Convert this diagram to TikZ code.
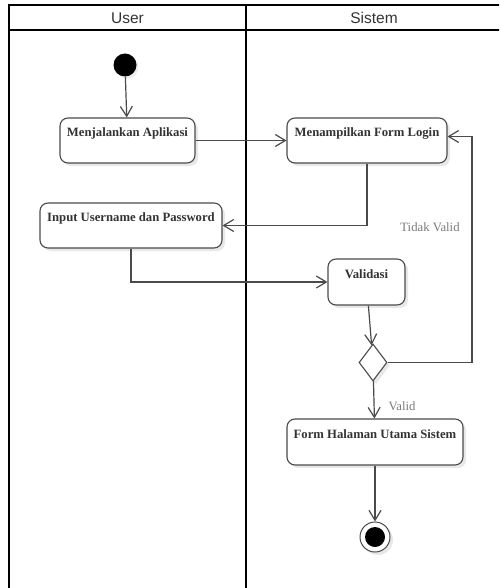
\documentclass[tikz,border=0pt]{standalone}
\usepackage{fontspec}
\setmainfont{Liberation Serif}
\setsansfont{Liberation Sans}
\usetikzlibrary{positioning,arrows.meta,shapes.geometric,shadows}

\definecolor{linegray}{HTML}{4A4A4A}
\definecolor{textgray}{HTML}{333333}
\definecolor{labelgray}{HTML}{7A7A7A}

\tikzset{
    activity/.style={draw=linegray, line width=1.1pt, rounded corners=8pt, fill=white,
        minimum height=45pt, inner sep=2pt, text height=9pt, text depth=17pt, text=textgray,
        font=\fontsize{12.7}{14}\selectfont\bfseries,
        drop shadow={shadow xshift=3pt, shadow yshift=-3pt, fill=black!9, opacity=1}},
    decision/.style={diamond, draw=linegray, line width=1.1pt, fill=white,
        minimum width=28pt, minimum height=37pt, inner sep=0pt,
        drop shadow={shadow xshift=3pt, shadow yshift=-3pt, fill=black!9, opacity=1}},
    startnode/.style={circle, fill=black, minimum size=23pt, inner sep=0pt,
        drop shadow={shadow xshift=2pt, shadow yshift=-2pt, fill=black!7, opacity=1}},
    endnode/.style={circle, draw=linegray, line width=1pt, fill=white, minimum size=30pt, inner sep=0pt,
        path picture={\fill[black] (path picture bounding box.center) circle (10pt);},
        drop shadow={shadow xshift=3pt, shadow yshift=-3pt, fill=black!9, opacity=1}},
    flow/.style={color=linegray, line width=1.2pt, -{Straight Barb[length=10pt,width=12pt]}},
    lanetitle/.style={text=textgray, font=\sffamily\fontsize{15.5}{18}\selectfont},
    guard/.style={text=labelgray, font=\fontsize{12.7}{14}\selectfont}
}

\begin{document}
\begin{tikzpicture}[x=1pt, y=-1pt]
        \clip (0,0) rectangle (499,588);
        % swimlanes
        \draw[line width=2pt] (9,600) -- (9,5.5) -- (510,5.5);
        \draw[line width=2pt] (9,30.5) -- (510,30.5);
        \draw[line width=2pt] (246,5.5) -- (246,600);
        \node[lanetitle] at (127.5,18) (userlane) {User};
        \node[lanetitle] at (374,18) (sistemlane) {Sistem};

        \node[startnode] at (125,65) (start) {};
        \node[activity, minimum width=135pt] at (127.5,140.5) (menjalankan) {Menjalankan Aplikasi};
        \node[activity, minimum width=160pt] at (367,140.5) (menampilkan) {Menampilkan Form Login};
        \node[activity, minimum width=182pt] at (131,225.5) (input) {Input Username dan Password};
        \node[activity, minimum width=77pt, minimum height=46pt] at (366.5,282) (validasi) {Validasi};
        \node[decision] at (373,362.5) (cek) {};
        \node[activity, minimum width=176pt, minimum height=46pt] at (375,442) (halaman) {Form Halaman Utama Sistem};
        \node[endnode] at (375,537) (finish) {};
        \coordinate (balik) at (472,362.5);

        \path[flow]
        (start) edge (menjalankan)
        (menjalankan) edge (menampilkan)
        (validasi) edge (cek)
        (cek) edge (halaman)
        (halaman) edge (finish)
        ;
        \draw[flow] (menampilkan) |- (input);
        \draw[flow] (input) |- (validasi);
        \draw[flow] (cek) -- (balik) |- ([yshift=4pt]menampilkan.east);

        \node[guard] at (430,227) (tidakvalid) {Tidak Valid};
        \node[guard] at (402,406) (valid) {Valid};
    \end{tikzpicture}
\end{document}
